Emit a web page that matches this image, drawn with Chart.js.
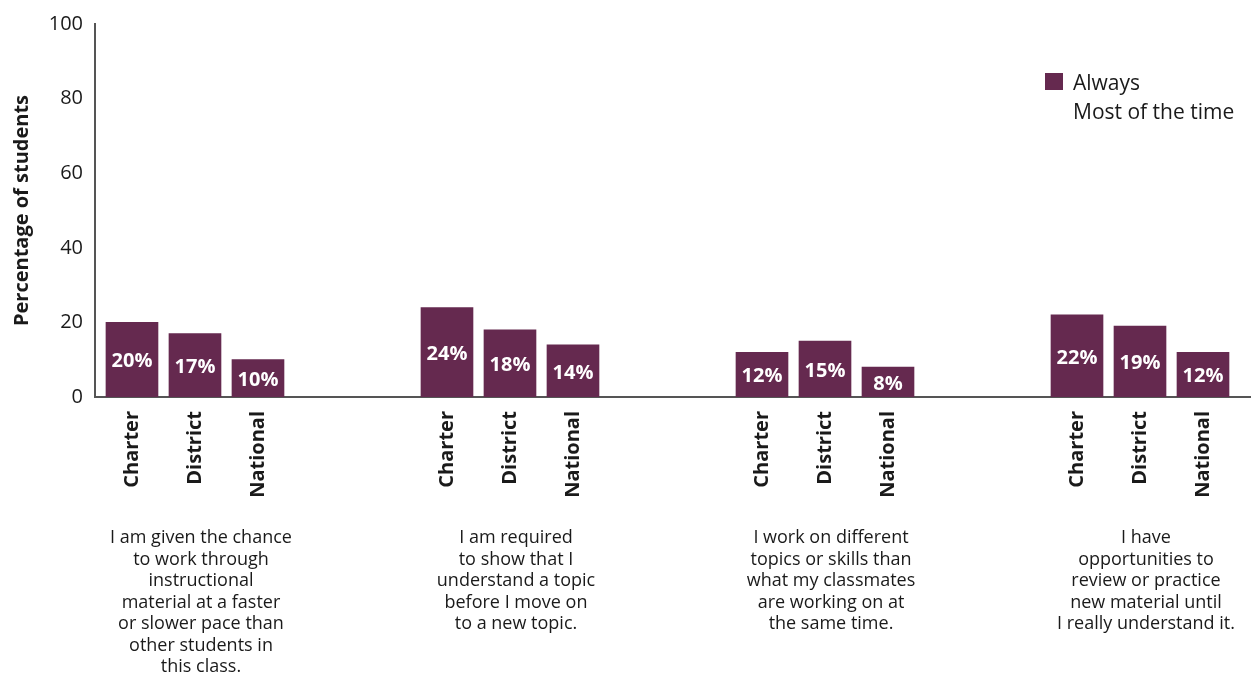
<!DOCTYPE html>
<html>
<head>
<meta charset="utf-8">
<script src="https://cdn.jsdelivr.net/npm/chart.js@4/dist/chart.umd.min.js"></script>
<style>
  html, body { margin: 0; padding: 0; background: #fff; }
  #wrap { position: relative; width: 1253px; height: 682px; }
  #legend { position: absolute; left: 1045px; top: 67px; font-family: "Open Sans", sans-serif; font-size: 21px; color: #1a1a1a; }
  .item { display: flex; align-items: center; height: 29px; }
  .sw { width: 18px; height: 17px; margin-right: 10px; }
</style>
</head>
<body>
<div id="wrap">
  <canvas id="c" width="1253" height="682"></canvas>
  <div id="legend"></div>
</div>
<script>
const groups = [
  ["I am given the chance", "to work through", "instructional", "material at a faster", "or slower pace than", "other students in", "this class."],
  ["I am required", "to show that I", "understand a topic", "before I move on", "to a new topic."],
  ["I work on different", "topics or skills than", "what my classmates", "are working on at", "the same time."],
  ["I have", "opportunities to", "review or practice", "new material until", "I really understand it."]
];
const schools = ["Charter", "District", "National"];
const alwaysValues = [
  [20, 17, 10],
  [24, 18, 14],
  [12, 15, 8],
  [22, 19, 12]
];
const seriesNames = ["Always", "Most of the time"];
const yTicks = [0, 20, 40, 60, 80, 100];

const purple = "#65294f";
const FONT = '"Open Sans", sans-serif';

// build positions: each group occupies 5 slots (3 bars + 2 gap slots)
const points = [];
const tickMap = {};
alwaysValues.forEach((vals, g) => {
  vals.forEach((v, k) => {
    const pos = g * 5 + k;
    points.push({ x: pos, y: v });
    tickMap[pos] = schools[k];
  });
});
const tickPositions = Object.keys(tickMap).map(Number);

// legend (HTML)
const legend = document.getElementById('legend');
seriesNames.forEach((name, i) => {
  const it = document.createElement('div');
  it.className = 'item';
  const sw = document.createElement('span');
  sw.className = 'sw';
  sw.style.background = i === 0 ? purple : 'transparent';
  const tx = document.createElement('span');
  tx.textContent = name;
  it.appendChild(sw); it.appendChild(tx);
  legend.appendChild(it);
});

const valueLabels = {
  id: 'valueLabels',
  afterDatasetsDraw(chart) {
    const ctx = chart.ctx;
    const meta = chart.getDatasetMeta(0);
    ctx.save();
    ctx.fillStyle = '#ffffff';
    ctx.font = 'bold 20px ' + FONT;
    ctx.textAlign = 'center';
    ctx.textBaseline = 'middle';
    meta.data.forEach((bar, i) => {
      const mid = (bar.y + bar.base) / 2;
      ctx.fillText(points[i].y + '%', bar.x, mid + 2);
    });
    ctx.restore();
  }
};

const descriptions = {
  id: 'descriptions',
  afterDraw(chart) {
    const ctx = chart.ctx;
    const xs = chart.scales.x;
    ctx.save();
    ctx.fillStyle = '#1a1a1a';
    ctx.font = '18px ' + FONT;
    ctx.textAlign = 'center';
    ctx.textBaseline = 'middle';
    groups.forEach((lines, g) => {
      const cx = xs.getPixelForValue(g * 5 + 1) + 6;
      lines.forEach((ln, j) => ctx.fillText(ln, cx, 538 + j * 21.5));
    });
    // extend baseline to the right edge
    const y0 = chart.scales.y.getPixelForValue(0);
    ctx.strokeStyle = '#555';
    ctx.lineWidth = 2;
    ctx.beginPath();
    ctx.moveTo(chart.chartArea.right - 1, y0);
    ctx.lineTo(1251, y0);
    ctx.stroke();
    ctx.restore();
  }
};

new Chart(document.getElementById('c'), {
  type: 'bar',
  data: {
    datasets: [
      { label: seriesNames[0], data: points, backgroundColor: purple, barThickness: 52 },
      { label: seriesNames[1], data: [], backgroundColor: 'transparent', barThickness: 52 }
    ]
  },
  options: {
    responsive: false,
    animation: false,
    grouped: false,
    layout: { padding: { top: 22, right: 3, left: 0, bottom: 0 } },
    plugins: { legend: { display: false }, tooltip: { enabled: false } },
    scales: {
      x: {
        type: 'linear',
        offset: false,
        min: -0.587,
        max: 17.746,
        grid: { display: false, drawTicks: false, offset: false },
        border: { display: true, color: '#555', width: 2 },
        afterBuildTicks(scale) { scale.ticks = tickPositions.map(v => ({ value: v })); },
        afterFit(scale) { scale.height = 285; },
        ticks: {
          autoSkip: false,
          minRotation: 90,
          maxRotation: 90,
          padding: 14,
          color: '#1a1a1a',
          font: { family: FONT, size: 20, weight: 'bold' },
          callback: (v) => tickMap[v] || ''
        }
      },
      y: {
        min: 0,
        max: 100,
        grid: { display: false, drawTicks: false },
        border: { display: true, color: '#555', width: 2 },
        afterBuildTicks(scale) { scale.ticks = yTicks.map(v => ({ value: v })); },
        afterFit(scale) { scale.width = 95; },
        ticks: {
          padding: 12,
          color: '#1a1a1a',
          font: { family: FONT, size: 20 }
        },
        title: {
          display: true,
          text: 'Percentage of students',
          color: '#1a1a1a',
          font: { family: FONT, size: 20, weight: 'bold' },
          padding: { top: 10, bottom: 0 }
        }
      }
    }
  },
  plugins: [valueLabels, descriptions]
});
</script>
</body>
</html>
